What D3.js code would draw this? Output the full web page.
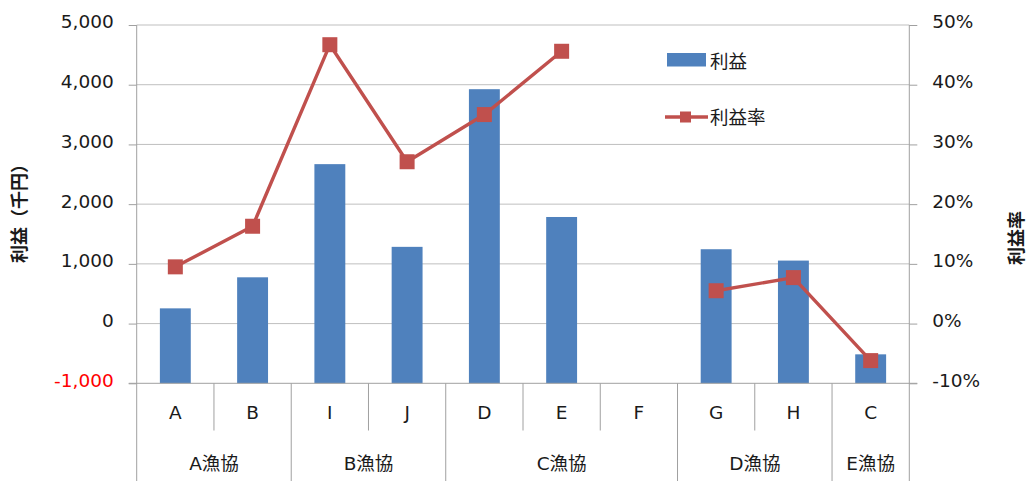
<!DOCTYPE html>
<html>
<head>
<meta charset="utf-8">
<script src="https://cdn.jsdelivr.net/npm/d3@7"></script>
<style>
  html, body { margin: 0; padding: 0; background: #fff; }
  svg { display: block; font-family: "DejaVu Sans", "Noto Sans CJK JP", sans-serif; }
</style>
</head>
<body>
<svg id="chart" width="1028" height="481"></svg>
<script>
// Categories (members) and their parent groups
const categories = ["A", "B", "I", "J", "D", "E", "F", "G", "H", "C"];
const groupNames = ["A漁協", "B漁協", "C漁協", "D漁協", "E漁協"];
const groupSizes = [2, 2, 3, 2, 1];

// Series values: profit (thousand yen) and profit rate
const profit = [255, 775, 2670, 1285, 3925, 1785, null, 1245, 1055, -515];
const profitRate = [0.095, 0.163, 0.467, 0.271, 0.350, 0.456, null, 0.055, 0.077, -0.062];

// Axis ticks
const leftTicks = [-1000, 0, 1000, 2000, 3000, 4000, 5000];
const rightTicks = [-0.1, 0, 0.1, 0.2, 0.3, 0.4, 0.5];

const seriesNames = ["利益", "利益率"];
const leftTitle = "利益（千円）";
const rightTitle = "利益率";

const BAR = "#4F81BD", LINE = "#C0504D";
const GRID = "#BFBFBF", AXIS = "#A0A0A0";

const svg = d3.select("#chart");
const plot = { left: 136.7, right: 909.3, top: 25, bottom: 383.3 };

const x = d3.scaleBand().domain(categories).range([plot.left, plot.right]);
const yL = d3.scaleLinear().domain([-1000, 5000]).range([plot.bottom, plot.top]);
const yR = d3.scaleLinear().domain([-0.1, 0.5]).range([plot.bottom, plot.top]);

// Plain hyphen for negative numbers
const fmtL = v => d3.format(",")(v).replace("\u2212", "-");
const fmtR = v => d3.format(".0%")(v).replace("\u2212", "-");

// Gridlines
svg.append("g").selectAll("line").data(leftTicks.filter(t => t !== -1000)).join("line")
  .attr("x1", plot.left).attr("x2", plot.right)
  .attr("y1", d => yL(d)).attr("y2", d => yL(d))
  .attr("stroke", GRID).attr("stroke-width", 1);

// Bars, drawn up from the axis floor (-1000)
const barW = x.bandwidth() * 0.4;
svg.append("g").selectAll("rect").data(categories.map((c, i) => ({ c, v: profit[i] })).filter(d => d.v != null))
  .join("rect")
  .attr("x", d => x(d.c) + (x.bandwidth() - barW) / 2)
  .attr("width", barW)
  .attr("y", d => yL(d.v))
  .attr("height", d => yL(-1000) - yL(d.v))
  .attr("fill", BAR);

// Left value axis
const leftAxis = d3.axisLeft(yL).tickValues(leftTicks).tickSize(8).tickPadding(15).tickFormat(fmtL);
const gL = svg.append("g").attr("transform", `translate(${plot.left},0)`).call(leftAxis);
gL.select(".domain").remove();
gL.selectAll(".tick line").attr("stroke", AXIS);
gL.selectAll(".tick text").attr("font-size", 18.5).attr("fill", d => d < 0 ? "#FF0000" : "#1a1a1a")
  .attr("font-family", "DejaVu Sans").attr("y", -3);

// Right percent axis
const rightAxis = d3.axisRight(yR).tickValues(rightTicks).tickSize(8).tickPadding(15).tickFormat(fmtR);
const gR = svg.append("g").attr("transform", `translate(${plot.right},0)`).call(rightAxis);
gR.select(".domain").remove();
gR.selectAll(".tick line").attr("stroke", AXIS);
gR.selectAll(".tick text").attr("font-size", 18.5).attr("fill", "#1a1a1a")
  .attr("font-family", "DejaVu Sans").attr("y", -3);

// Vertical axis lines extending through the category area
[plot.left, plot.right].forEach(px => {
  svg.append("line").attr("x1", px).attr("x2", px).attr("y1", plot.top).attr("y2", 481)
    .attr("stroke", AXIS).attr("stroke-width", 1);
});
// Category axis line
svg.append("line").attr("x1", plot.left - 8).attr("x2", plot.right + 8)
  .attr("y1", plot.bottom).attr("y2", plot.bottom).attr("stroke", AXIS);

// Multi-level category axis
let idx = 0;
const groupBounds = groupSizes.map((n, g) => {
  const start = idx; idx += n;
  return { name: groupNames[g], start, end: idx };
});
const step = x.step();
groupBounds.forEach(gb => {
  // separators between members of a group
  for (let k = gb.start + 1; k < gb.end; k++) {
    const px = x(categories[k]);
    svg.append("line").attr("x1", px).attr("x2", px).attr("y1", plot.bottom).attr("y2", 430.5)
      .attr("stroke", AXIS);
  }
  // separators between groups
  if (gb.end < categories.length) {
    const px = x(categories[gb.end]);
    svg.append("line").attr("x1", px).attr("x2", px).attr("y1", plot.bottom).attr("y2", 481)
      .attr("stroke", AXIS);
  }
});
svg.append("g").selectAll("text").data(categories).join("text")
  .attr("x", d => x(d) + x.bandwidth() / 2).attr("y", 412)
  .attr("text-anchor", "middle").attr("dominant-baseline", "central")
  .attr("font-size", 18.5).attr("fill", "#1a1a1a").text(d => d);
svg.append("g").selectAll("text").data(groupBounds).join("text")
  .attr("x", d => plot.left + (d.start + d.end) / 2 * step).attr("y", 463)
  .attr("text-anchor", "middle").attr("dominant-baseline", "central")
  .attr("font-size", 18.5).attr("fill", "#1a1a1a").text(d => d.name);

// Profit rate line (gap where data is missing)
const rateData = categories.map((c, i) => ({ c, v: profitRate[i] }));
const line = d3.line().defined(d => d.v != null)
  .x(d => x(d.c) + x.bandwidth() / 2).y(d => yR(d.v));
svg.append("path").datum(rateData).attr("d", line)
  .attr("fill", "none").attr("stroke", LINE).attr("stroke-width", 3.4).attr("stroke-linejoin", "round");
const mk = 15;
svg.append("g").selectAll("rect").data(rateData.filter(d => d.v != null)).join("rect")
  .attr("x", d => x(d.c) + x.bandwidth() / 2 - mk / 2)
  .attr("y", d => yR(d.v) - mk / 2)
  .attr("width", mk).attr("height", mk).attr("fill", LINE);

// Axis titles
svg.append("text").attr("transform", "translate(18,209) rotate(-90)")
  .attr("text-anchor", "middle").attr("dominant-baseline", "central")
  .attr("font-size", 18).attr("font-weight", "bold").attr("fill", "#1a1a1a")
  .attr("font-family", "Noto Sans CJK JP").text(leftTitle);
svg.append("text").attr("transform", "translate(1015,238) rotate(-90)")
  .attr("text-anchor", "middle").attr("dominant-baseline", "central")
  .attr("font-size", 18).attr("font-weight", "bold").attr("fill", "#1a1a1a")
  .attr("font-family", "Noto Sans CJK JP").text(rightTitle);

// Legend
const lg = svg.append("g");
lg.append("rect").attr("x", 667).attr("y", 53).attr("width", 39).attr("height", 13.5).attr("fill", BAR);
lg.append("text").attr("x", 710).attr("y", 59.5).attr("dominant-baseline", "central")
  .attr("font-size", 18.5).attr("fill", "#1a1a1a").attr("font-family", "Noto Sans CJK JP").text(seriesNames[0]);
lg.append("line").attr("x1", 665).attr("x2", 708).attr("y1", 117).attr("y2", 117)
  .attr("stroke", LINE).attr("stroke-width", 3.4);
lg.append("rect").attr("x", 680).attr("y", 111.5).attr("width", 11).attr("height", 11).attr("fill", LINE);
lg.append("text").attr("x", 710).attr("y", 116).attr("dominant-baseline", "central")
  .attr("font-size", 18.5).attr("fill", "#1a1a1a").attr("font-family", "Noto Sans CJK JP").text(seriesNames[1]);
</script>
</body>
</html>
